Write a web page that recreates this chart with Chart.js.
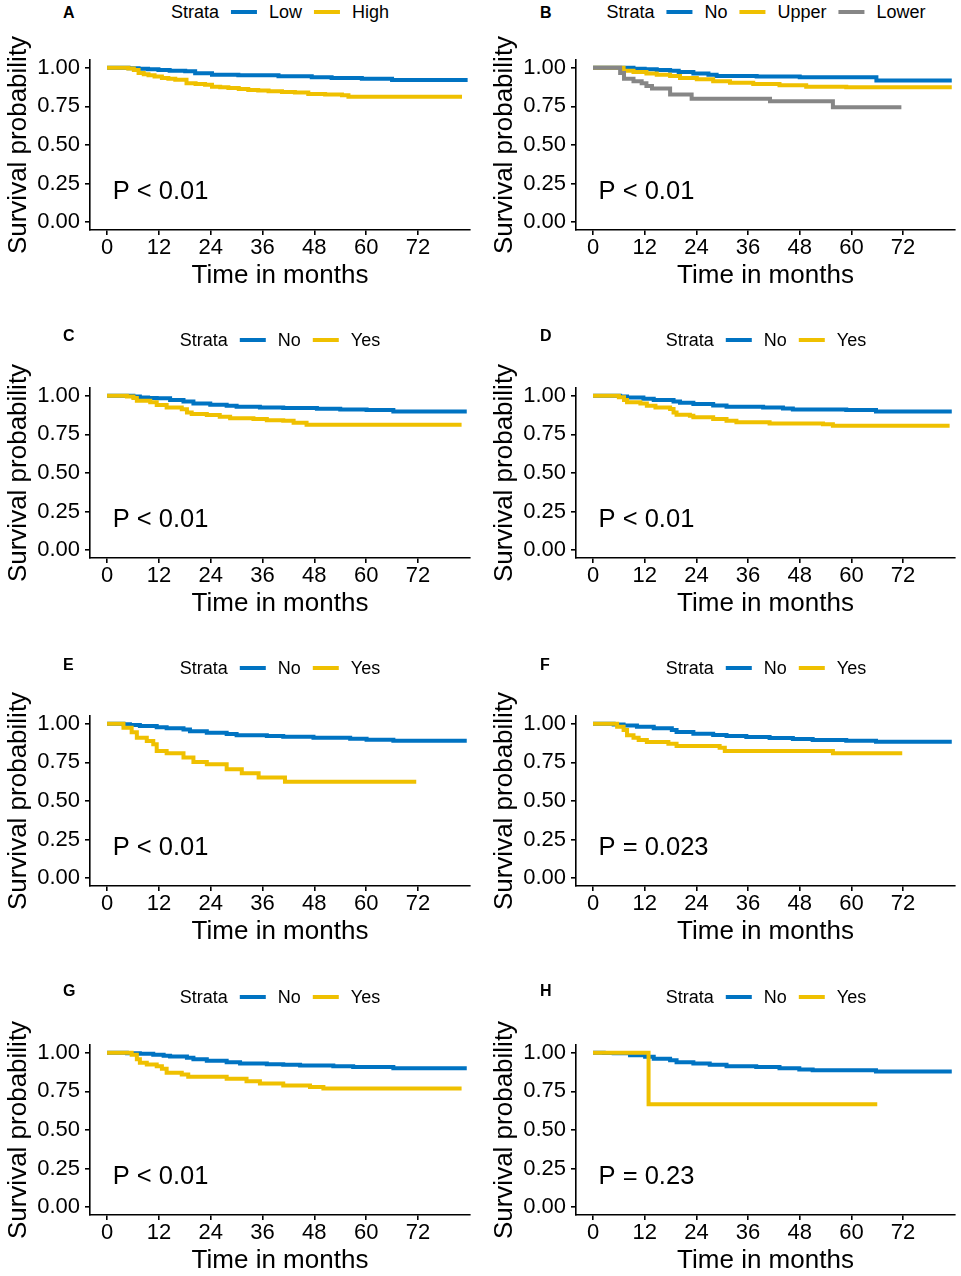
<!DOCTYPE html>
<html>
<head>
<meta charset="utf-8">
<title>Kaplan-Meier curves</title>
<script src="https://cdn.jsdelivr.net/npm/chart.js@4"></script>
<style>
  html, body { margin: 0; padding: 0; background: #fff; overflow: hidden; }
  #page { position: relative; width: 961px; height: 1276px; overflow: hidden;
          font-family: "Liberation Sans", Arial, Helvetica, sans-serif; color: #000; }
  .panel { position: absolute; }
  .tag { position: absolute; font-weight: bold; font-size: 16px; line-height: 16px; }
  .legend { position: absolute; display: flex; align-items: center; font-size: 18px;
            line-height: 18px; white-space: nowrap; transform: translate(-50%, -50%); }
  .legend .key { display: inline-block; width: 26px; height: 4px; margin: 0 12px; }
</style>
</head>
<body>
<div id="page"></div>
<script>
// axis ticks
const timeTicks = [0, 12, 24, 36, 48, 60, 72];
const survTicks = [0, 0.25, 0.5, 0.75, 1];

// A
const monthsALow  = [0, 5, 7.3, 9.5, 11.9, 14.5, 18.1, 20.4, 24.3, 30.4, 39.7, 47.4, 52, 59, 66, 83.5];
const survALow    = [1, 0.997, 0.994, 0.99, 0.985, 0.981, 0.977, 0.964, 0.955, 0.951, 0.945, 0.938, 0.934, 0.929, 0.921, 0.921];
const monthsAHigh = [0, 4.9, 6.2, 7.3, 8.5, 9.6, 11, 12.7, 14.2, 15.8, 18.4, 20.5, 22.7, 24.3, 26.2, 28.1, 30.5, 32.7, 35, 37.4, 40.5, 43.5, 46.6, 50.5, 54.4, 55.9, 82.2];
const survAHigh   = [1, 0.995, 0.985, 0.966, 0.958, 0.951, 0.943, 0.934, 0.928, 0.923, 0.899, 0.895, 0.89, 0.877, 0.873, 0.869, 0.862, 0.856, 0.852, 0.848, 0.843, 0.839, 0.83, 0.826, 0.822, 0.813, 0.813];

// B
const monthsBNo    = [0, 7.1, 9.4, 12, 14.8, 17.9, 19.9, 23.3, 26.8, 28.7, 38, 48, 65.8, 83.3];
const survBNo      = [1, 1, 0.994, 0.99, 0.985, 0.981, 0.972, 0.963, 0.955, 0.946, 0.944, 0.938, 0.917, 0.917];
const monthsBUpper = [0, 7.1, 9.4, 12.4, 14.8, 17.9, 20.2, 24.1, 27.9, 31.8, 37.2, 43.3, 49.5, 58.8, 83.3];
const survBUpper   = [1, 0.981, 0.972, 0.963, 0.955, 0.946, 0.933, 0.925, 0.912, 0.903, 0.895, 0.886, 0.877, 0.873, 0.873];
const monthsBLower = [0, 6.3, 7.2, 9.4, 11.3, 12.4, 13.7, 17.9, 22.9, 41.1, 55.7, 71.6];
const survBLower   = [1, 0.966, 0.929, 0.912, 0.899, 0.882, 0.865, 0.826, 0.8, 0.783, 0.745, 0.745];

// C
const monthsCNo  = [0, 6.1, 7.6, 9.5, 11.5, 14.6, 17.7, 20, 23.9, 27.7, 30, 35.4, 40.8, 48.6, 54, 60.1, 66.3, 83.3];
const survCNo    = [1, 0.995, 0.989, 0.986, 0.983, 0.972, 0.963, 0.95, 0.942, 0.935, 0.929, 0.924, 0.92, 0.916, 0.911, 0.907, 0.898, 0.898];
const monthsCYes = [0, 4.6, 6.1, 6.9, 10, 11.5, 13.8, 17.3, 18.5, 19.6, 23.1, 26.1, 28.5, 33.9, 37, 40.8, 43.2, 46.2, 82.1];
const survCYes   = [1, 0.995, 0.985, 0.968, 0.957, 0.94, 0.924, 0.913, 0.892, 0.881, 0.875, 0.864, 0.855, 0.849, 0.842, 0.838, 0.825, 0.813, 0.813];

// D
const monthsDNo  = [0, 6.3, 7.9, 11.7, 14.1, 18.7, 20.2, 23.3, 27.9, 31, 39.5, 44.1, 46.4, 58.8, 65.7, 83.3];
const survDNo    = [1, 0.995, 0.989, 0.981, 0.972, 0.963, 0.955, 0.946, 0.937, 0.929, 0.924, 0.918, 0.911, 0.907, 0.898, 0.898];
const monthsDYes = [0, 6, 7.2, 7.9, 11, 12.5, 14.5, 17.9, 18.7, 19.4, 22.5, 23.3, 27.9, 31, 33.3, 41, 53.4, 55.7, 82.8];
const survDYes   = [1, 0.99, 0.972, 0.957, 0.95, 0.935, 0.924, 0.914, 0.892, 0.877, 0.87, 0.86, 0.849, 0.838, 0.829, 0.821, 0.816, 0.806, 0.806];

// E
const monthsENo  = [0, 3.8, 5.3, 7.6, 11.5, 13.8, 17.7, 19.2, 23.1, 27.7, 30, 37, 40.8, 47.8, 56.3, 60.1, 66.3, 83.3];
const survENo    = [1, 0.996, 0.991, 0.985, 0.978, 0.97, 0.963, 0.951, 0.942, 0.933, 0.925, 0.92, 0.916, 0.91, 0.903, 0.897, 0.89, 0.89];
const monthsEYes = [0, 3.8, 5.7, 6.9, 9.2, 10.7, 11.5, 13.8, 17.7, 20, 23.1, 27.7, 31.2, 35.1, 41.2, 71.6];
const survEYes   = [1, 0.974, 0.945, 0.91, 0.888, 0.867, 0.824, 0.809, 0.781, 0.753, 0.738, 0.705, 0.68, 0.652, 0.624, 0.624];

// F
const monthsFNo  = [0, 4.8, 7.1, 10.2, 14.1, 18.3, 19.4, 23.3, 27.9, 31, 35.6, 41, 46.4, 51, 58.8, 65.7, 83.3];
const survFNo    = [1, 0.995, 0.989, 0.981, 0.97, 0.959, 0.946, 0.935, 0.927, 0.92, 0.914, 0.908, 0.901, 0.895, 0.89, 0.884, 0.884];
const monthsFYes = [0, 5.6, 7.1, 7.9, 9.4, 10.6, 12.5, 17.5, 19.4, 29.4, 30.6, 55.7, 71.8];
const survFYes   = [1, 0.981, 0.959, 0.925, 0.91, 0.895, 0.882, 0.871, 0.856, 0.845, 0.824, 0.809, 0.809];

// G
const monthsGNo  = [0, 4.6, 7.6, 10.7, 13.1, 14.6, 18.5, 20, 23.1, 27.7, 30.8, 37, 40.8, 44.7, 52.4, 57, 66.3, 83.3];
const survGNo    = [1, 0.997, 0.994, 0.987, 0.981, 0.976, 0.968, 0.957, 0.948, 0.939, 0.931, 0.926, 0.922, 0.918, 0.913, 0.907, 0.9, 0.9];
const monthsGYes = [0, 5.7, 6.9, 7.6, 9.2, 11.5, 12.7, 13.8, 17.3, 18.8, 27.7, 32.3, 35.4, 40.8, 47, 50.1, 82.1];
const survGYes   = [1, 0.987, 0.957, 0.935, 0.924, 0.913, 0.896, 0.87, 0.859, 0.844, 0.831, 0.816, 0.801, 0.788, 0.779, 0.768, 0.768];

// H
const monthsHNo  = [0, 2.5, 4.8, 8.6, 12.1, 14.1, 17.9, 19.4, 23.3, 27.1, 31, 37.9, 43.3, 47.9, 51, 65.7, 83.3];
const survHNo    = [1, 0.998, 0.996, 0.983, 0.974, 0.961, 0.952, 0.939, 0.931, 0.922, 0.913, 0.907, 0.9, 0.892, 0.887, 0.879, 0.879];
const monthsHYes = [0, 12.9, 66];
const survHYes   = [1, 0.667, 0.667];

const panels = [
  { tag: 'A', p: 'P < 0.01',  curves: [['Low', monthsALow, survALow], ['High', monthsAHigh, survAHigh]] },
  { tag: 'B', p: 'P < 0.01',  curves: [['No', monthsBNo, survBNo], ['Upper', monthsBUpper, survBUpper], ['Lower', monthsBLower, survBLower]] },
  { tag: 'C', p: 'P < 0.01',  curves: [['No', monthsCNo, survCNo], ['Yes', monthsCYes, survCYes]] },
  { tag: 'D', p: 'P < 0.01',  curves: [['No', monthsDNo, survDNo], ['Yes', monthsDYes, survDYes]] },
  { tag: 'E', p: 'P < 0.01',  curves: [['No', monthsENo, survENo], ['Yes', monthsEYes, survEYes]] },
  { tag: 'F', p: 'P = 0.023', curves: [['No', monthsFNo, survFNo], ['Yes', monthsFYes, survFYes]] },
  { tag: 'G', p: 'P < 0.01',  curves: [['No', monthsGNo, survGNo], ['Yes', monthsGYes, survGYes]] },
  { tag: 'H', p: 'P = 0.23',  curves: [['No', monthsHNo, survHNo], ['Yes', monthsHYes, survHYes]] }
];

const strataColors = ['#0073C2', '#EFC000', '#868686'];
const fontFamily = '"Liberation Sans", Arial, Helvetica, sans-serif';

// page layout
const colLeft = [0, 486];
const colWidth = [480, 475];
const rowTop = [0, 328, 656, 985];
const tagLeft = [63, 540];
const tagTop = [5, 328, 656.5, 983];

Chart.defaults.font.family = fontFamily;
Chart.defaults.color = '#000';

// p-value text, placed in data coordinates
const pValueLabel = {
  id: 'pValueLabel',
  afterDatasetsDraw(chart, args, opts) {
    const {ctx, scales} = chart;
    ctx.save();
    ctx.font = '25.5px ' + fontFamily;
    ctx.fillStyle = '#000';
    ctx.textAlign = 'left';
    ctx.textBaseline = 'middle';
    ctx.fillText(opts.text, scales.x.getPixelForValue(opts.x), scales.y.getPixelForValue(opts.y));
    ctx.restore();
  }
};

const page = document.getElementById('page');

panels.forEach((panel, i) => {
  const col = i % 2;
  const row = Math.floor(i / 2);
  const left = colLeft[col];
  const top = rowTop[row];
  const width = colWidth[col];

  const tag = document.createElement('div');
  tag.className = 'tag';
  tag.style.left = tagLeft[col] + 'px';
  tag.style.top = tagTop[row] + 'px';
  tag.textContent = panel.tag;
  page.appendChild(tag);

  const legend = document.createElement('div');
  legend.className = 'legend';
  legend.style.left = (left + 280) + 'px';
  legend.style.top = (top + 12) + 'px';
  let html = '<span>Strata</span>';
  panel.curves.forEach((c, k) => {
    html += `<span class="key" style="background:${strataColors[k]}"></span><span>${c[0]}</span>`;
  });
  legend.innerHTML = html;
  page.appendChild(legend);

  const box = document.createElement('div');
  box.className = 'panel';
  box.style.left = left + 'px';
  box.style.top = top + 'px';
  const canvas = document.createElement('canvas');
  canvas.width = width;
  canvas.height = 328;
  canvas.style.width = width + 'px';
  canvas.style.height = '328px';
  box.appendChild(canvas);
  page.appendChild(box);

  const datasets = panel.curves.map((c, k) => ({
    label: c[0],
    data: c[1].map((t, j) => ({ x: t, y: c[2][j] })),
    borderColor: strataColors[k],
    backgroundColor: strataColors[k],
    borderWidth: 4,
    borderCapStyle: 'butt',
    borderJoinStyle: 'miter',
    stepped: true,
    pointRadius: 0,
    fill: false,
    order: panel.curves.length - k
  }));

  new Chart(canvas, {
    type: 'line',
    data: { datasets: datasets },
    plugins: [pValueLabel],
    options: {
      responsive: false,
      animation: false,
      events: [],
      layout: { padding: { top: 60, left: 0, right: width - 470 + col, bottom: 36.4 } },
      plugins: {
        legend: { display: false },
        tooltip: { enabled: false },
        pValueLabel: { text: panel.p, x: 1.3, y: 0.193 }
      },
      scales: {
        x: {
          type: 'linear',
          min: -3.95,
          max: 84.05,
          afterBuildTicks: (scale) => { scale.ticks = timeTicks.map(v => ({ value: v })); },
          afterFit: (scale) => { scale.height = 61.6; },
          ticks: { font: { size: 22 }, color: '#000', padding: 0, maxRotation: 0, autoSkip: false,
                   callback: (v) => String(v) },
          grid: { display: true, drawOnChartArea: false, drawTicks: true, tickLength: 5, color: '#000', lineWidth: 1.6 },
          border: { display: true, color: '#000', width: 1.6 },
          title: { display: true, text: 'Time in months', font: { size: 26 }, color: '#000', padding: 0 }
        },
        y: {
          type: 'linear',
          min: -0.05,
          max: 1.05,
          afterBuildTicks: (scale) => { scale.ticks = survTicks.map(v => ({ value: v })); },
          afterFit: (scale) => { scale.width = 90; },
          ticks: { font: { size: 22 }, color: '#000', padding: 5, autoSkip: false,
                   callback: (v) => v.toFixed(2) },
          grid: { display: true, drawOnChartArea: false, drawTicks: true, tickLength: 5, color: '#000', lineWidth: 1.6 },
          border: { display: true, color: '#000', width: 1.6 },
          title: { display: true, text: 'Survival probability', font: { size: 26 }, color: '#000',
                   padding: { top: 3, bottom: 0 } }
        }
      }
    }
  });
});
</script>
</body>
</html>
